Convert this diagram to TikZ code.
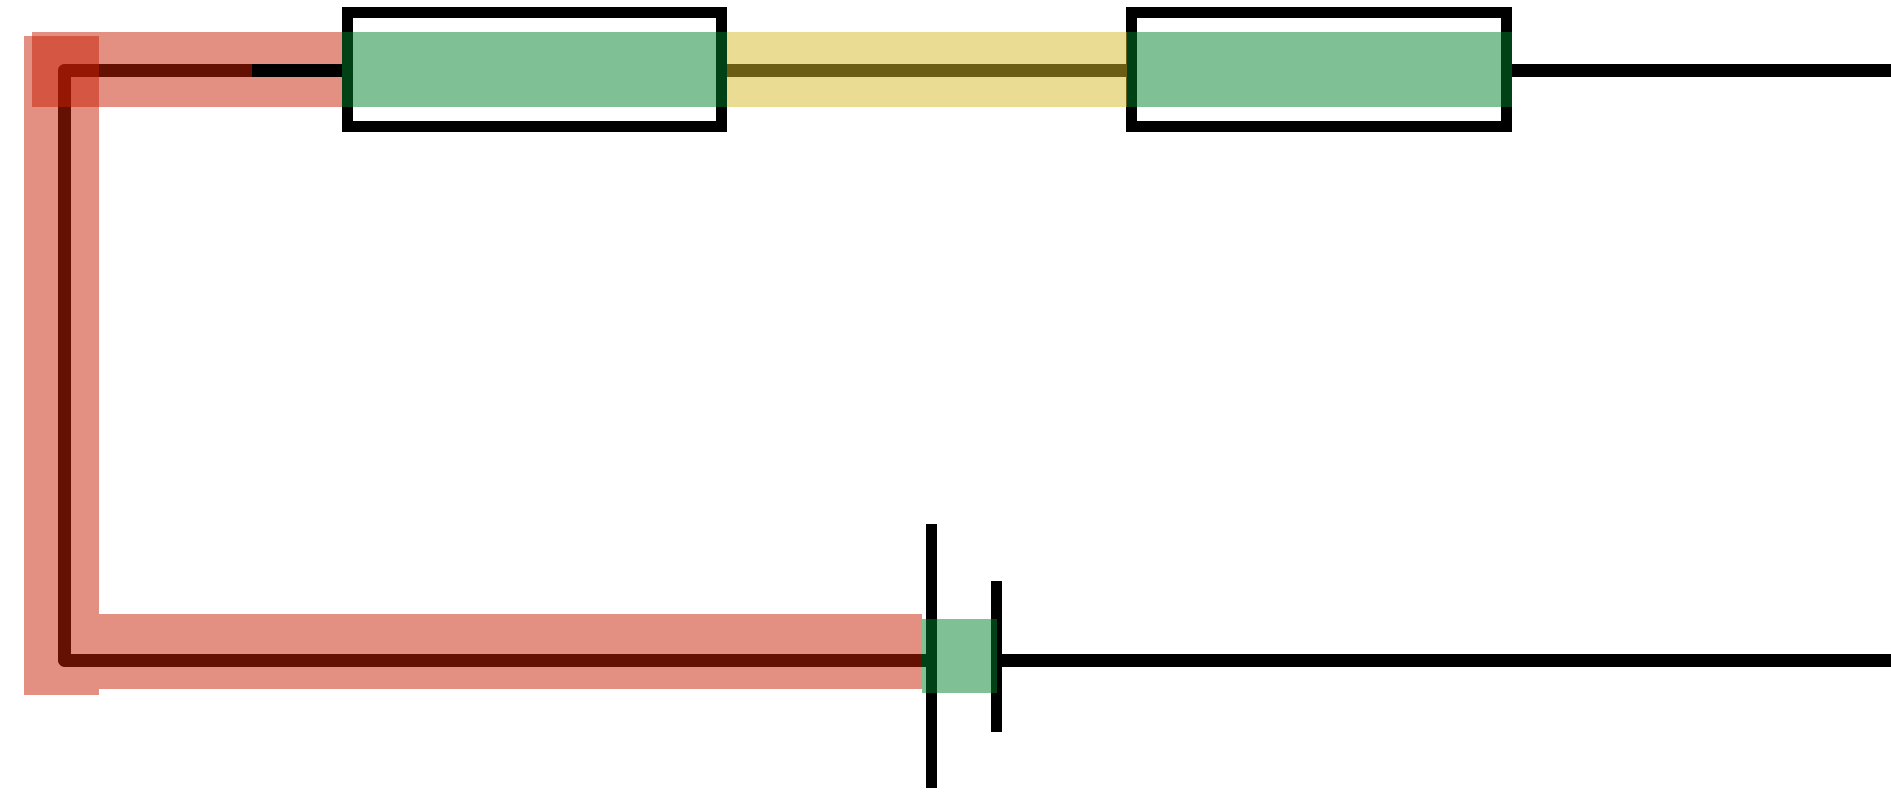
\documentclass[tikz,border=0pt]{standalone}
\usetikzlibrary{positioning}
\definecolor{bandred}{RGB}{200,32,6}
\definecolor{bandgreen}{RGB}{0,130,42}
\definecolor{bandyellow}{RGB}{216,186,40}
\begin{document}
\begin{tikzpicture}[x=0.01cm,y=-0.01cm,
  resistor/.style={draw=black,line width=0.11cm,rectangle,minimum width=3.74cm,minimum height=1.135cm,inner sep=0pt},
  plate/.style={fill=black,rectangle,minimum width=0.11cm,inner sep=0pt,outer sep=0pt},
  wire/.style={draw=black,line width=0.13cm},
  redband/.style={fill=bandred,fill opacity=0.5},
  greenband/.style={fill=bandgreen,fill opacity=0.5},
  yellowband/.style={fill=bandyellow,fill opacity=0.5}]
\fill[white] (0,0) rectangle (1891,794);
\useasboundingbox (0,0) rectangle (1891,794);
% components
\node[resistor] (R1) at (534.5,69.5) {};
\node[resistor] (R2) at (1319,69.5) {};
\node[plate,minimum height=2.64cm] (C1) at (931.5,656) {};
\node[plate,minimum height=1.51cm] (C2) at (996.5,656.5) {};
% free ends and corners
\coordinate (tl) at (64.5,70.5);
\coordinate (bl) at (64.5,660);
\coordinate (tr) at (1891,70.5);
\coordinate (br) at (1891,660);
\coordinate (ws) at (252,70.5);
% wires
\draw[wire,line join=round] (R1.west |- tl) -- (tl) -- (bl) -- (C1.center |- bl);
\draw[wire] (R1.east |- tl) -- (R2.west |- tl);
\draw[wire] (R2.east |- tr) -- (tr);
\draw[wire] (C2.center |- br) -- (br);
% bands
\fill[redband] (32,32) rectangle (342,107);
\fill[redband] (24,36) rectangle (99,695);
\fill[redband] (99,614) rectangle (922,689);
\fill[greenband] (342,32) rectangle (727,107);
\fill[yellowband] (727,32) rectangle (1127,107);
\fill[greenband] (1127,32) rectangle (1512,107);
\fill[greenband] (922,619) rectangle (997,693);
% top wire segment above the band
\draw[wire] (ws) -- (R1.west |- ws);
\end{tikzpicture}
\end{document}
